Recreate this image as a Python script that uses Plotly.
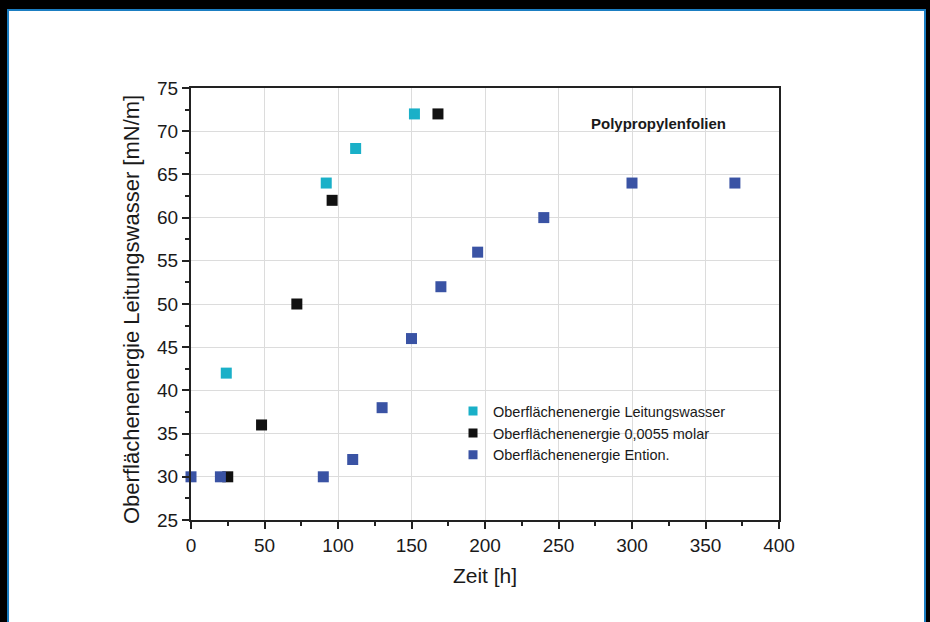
import plotly.graph_objects as go

# Data
leitung_x = [24, 92, 112, 152]
leitung_y = [42, 64, 68, 72]

molar_x = [25, 48, 72, 96, 168]
molar_y = [30, 36, 50, 62, 72]

ention_x = [0, 20, 90, 110, 130, 150, 170, 195, 240, 300, 370]
ention_y = [30, 30, 30, 32, 38, 46, 52, 56, 60, 64, 64]

names = ["Oberflächenenergie Leitungswasser",
         "Oberflächenenergie 0,0055 molar",
         "Oberflächenenergie Ention."]
colors = ["#1ab0c8", "#111111", "#3a53a4"]

x_ticks = [0, 50, 100, 150, 200, 250, 300, 350, 400]
y_ticks = [25, 30, 35, 40, 45, 50, 55, 60, 65, 70, 75]

FONT = "Liberation Sans, Arial, Helvetica, sans-serif"
TXT = "#1a1a1a"

fig = go.Figure()
series = [(leitung_x, leitung_y), (molar_x, molar_y), (ention_x, ention_y)]
for (xs, ys), name, col in zip(series, names, colors):
    fig.add_trace(go.Scatter(x=xs, y=ys, mode="markers", name=name,
                             marker=dict(symbol="square", size=11, color=col,
                                         line=dict(width=0)),
                             showlegend=False, cliponaxis=False))
# legend-only traces (smaller legend markers as in the reference)
for name, col in zip(names, colors):
    fig.add_trace(go.Scatter(x=[None], y=[None], mode="markers", name=name,
                             marker=dict(symbol="square", size=9, color=col,
                                         line=dict(width=0)),
                             showlegend=True))

fig.update_layout(
    width=930, height=622,
    margin=dict(l=191, r=151, t=88, b=102, pad=0),
    paper_bgcolor="black",
    plot_bgcolor="white",
    font=dict(family=FONT, color=TXT, size=18),
    showlegend=True,
    legend=dict(x=0.4456, y=0.289, xanchor="left", yanchor="top",
                bgcolor="rgba(0,0,0,0)", borderwidth=0,
                font=dict(size=14.5, color=TXT, family=FONT),
                itemwidth=30),
    xaxis=dict(range=[0, 400], tickmode="array", tickvals=x_ticks,
               showgrid=True, gridcolor="#dcdcdc", gridwidth=1,
               zeroline=False, showline=True, linecolor="#222", linewidth=2,
               mirror=True, ticks="outside", ticklen=7, tickwidth=1.5,
               tickcolor="#222",
               minor=dict(dtick=25, tick0=0, ticks="outside", ticklen=4,
                          tickwidth=1.5, tickcolor="#222", showgrid=False),
               tickfont=dict(size=19, family=FONT, color=TXT),
               title=dict(text="Zeit [h]", font=dict(size=21, family=FONT, color=TXT),
                          standoff=14)),
    yaxis=dict(range=[25, 75], tickmode="array", tickvals=y_ticks,
               showgrid=True, gridcolor="#dcdcdc", gridwidth=1,
               zeroline=False, showline=True, linecolor="#222", linewidth=2,
               mirror=True, ticks="outside", ticklen=7, tickwidth=1.5,
               tickcolor="#222",
               minor=dict(dtick=2.5, tick0=25, ticks="outside", ticklen=4,
                          tickwidth=1.5, tickcolor="#222", showgrid=False),
               tickfont=dict(size=19, family=FONT, color=TXT)),
)

# White panel with blue border on the black background
fig.add_shape(type="rect", xref="paper", yref="paper",
              x0=-0.3112, x1=1.2483, y0=-0.26, y1=1.1806,
              fillcolor="white", line=dict(color="#1b7ec2", width=2),
              layer="below")
# White box behind the legend
fig.add_shape(type="rect", xref="paper", yref="paper",
              x0=0.432, x1=0.976, y0=0.1227, y1=0.2778,
              fillcolor="white", line=dict(width=0), layer="between")
# White box behind the label
fig.add_shape(type="rect", xref="paper", yref="paper",
              x0=0.6616, x1=0.9303, y0=0.838, y1=0.972,
              fillcolor="white", line=dict(width=0), layer="between")

fig.add_annotation(text="<b>Polypropylenfolien</b>", xref="paper", yref="paper",
                   x=0.7959, y=0.917, xanchor="center", yanchor="middle",
                   showarrow=False, font=dict(size=15, family=FONT, color=TXT))

# Y-axis title
fig.add_annotation(text="Oberflächenenergie Leitungswasser [mN/m]",
                   xref="paper", yref="paper",
                   x=(131 - 191) / 588, y=(520 - 310) / 432,
                   xanchor="center", yanchor="middle", textangle=-90,
                   showarrow=False, font=dict(size=22, family=FONT, color=TXT))

fig.write_html("out.html")
